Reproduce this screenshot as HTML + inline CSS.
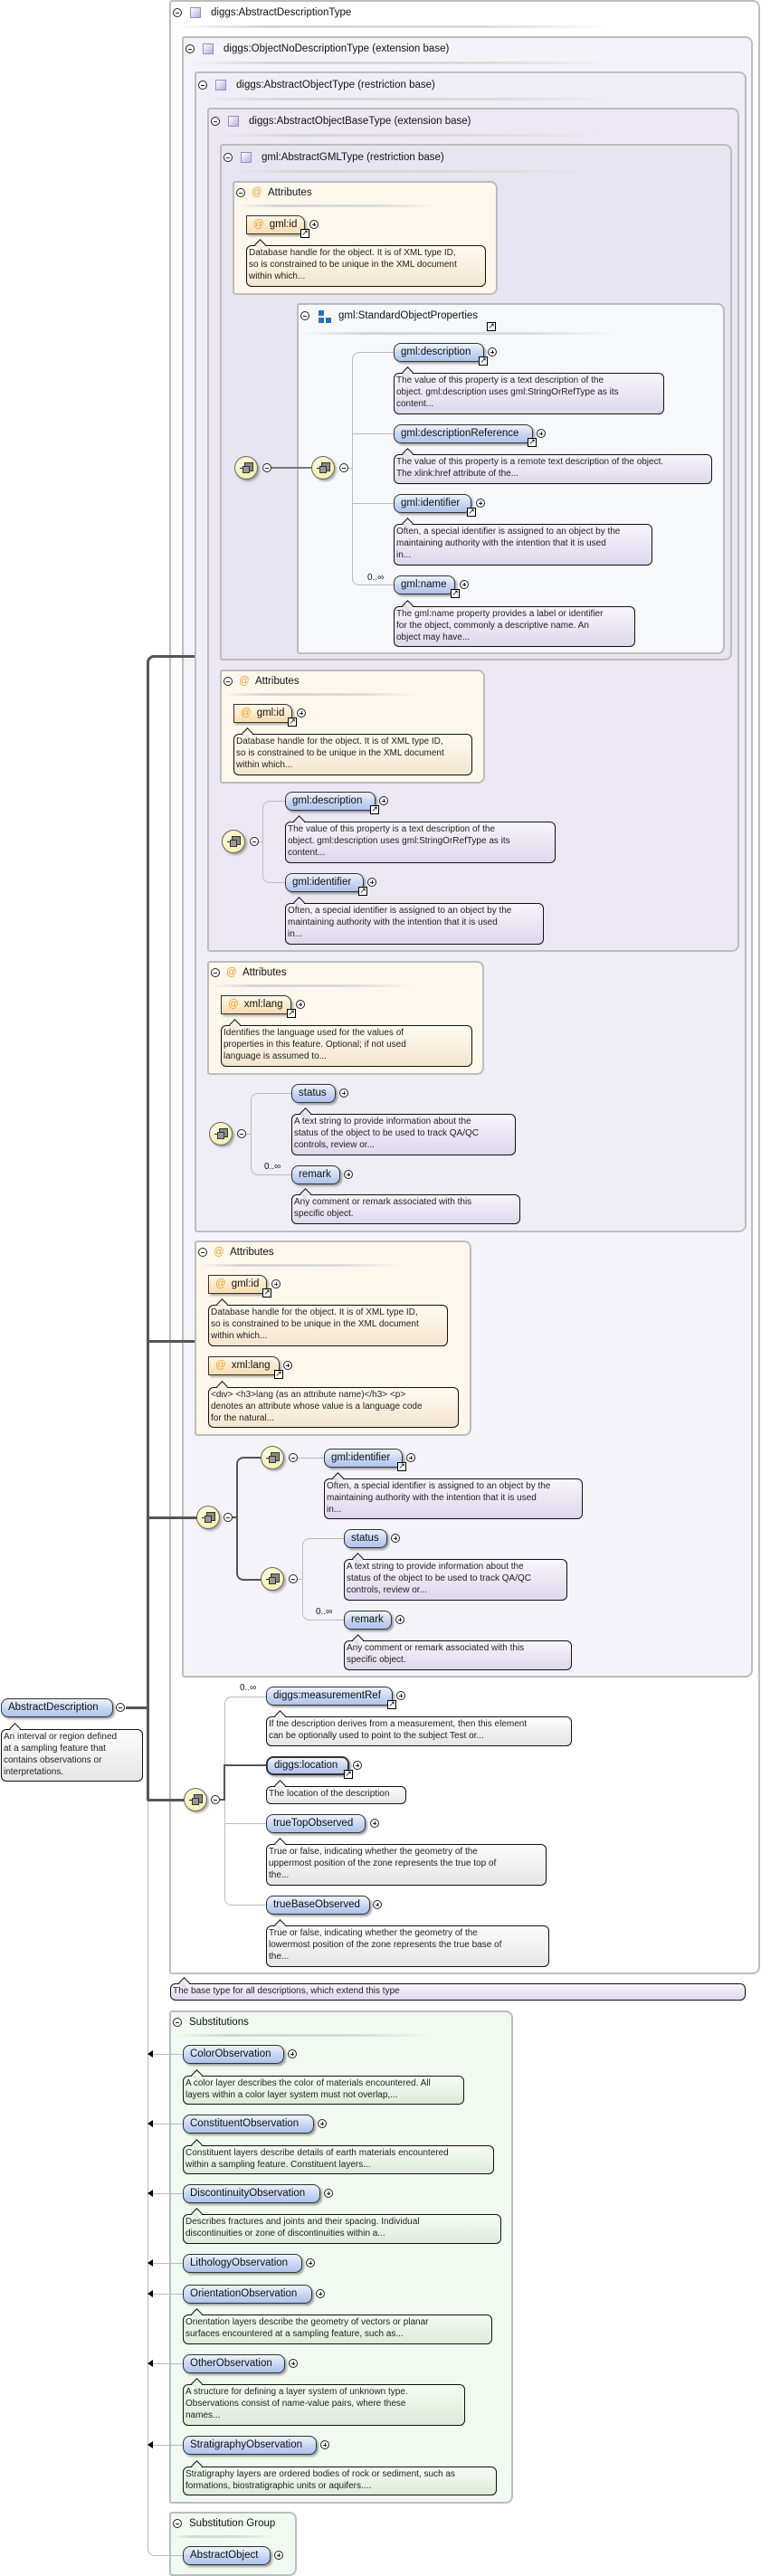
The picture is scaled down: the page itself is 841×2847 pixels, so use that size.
<!DOCTYPE html>
<html><head><meta charset="utf-8">
<style>
body{margin:0;width:841px;height:2847px;position:relative;background:#fff;font-family:"Liberation Sans",sans-serif;overflow:hidden}
div,span{box-sizing:border-box}
.box{position:absolute;border:2px solid #bdbdbd;border-radius:3px 8px 8px 3px}
.tt{position:absolute;font-size:11.5px;color:#111;white-space:nowrap;line-height:14px}
.sep{position:absolute;height:3px;background:linear-gradient(90deg,rgba(200,200,200,0),#d6d6d6 20%,#dcdcdc 70%,rgba(220,220,220,0))}
.mi,.pl{position:absolute;width:10px;height:10px;border:1px solid #222;border-radius:50%;background:#fff}
.mi::after{content:"";position:absolute;left:2px;top:3.5px;width:4px;height:1px;background:#222}
.pl::after{content:"";position:absolute;left:2px;top:3.5px;width:4px;height:1px;background:#222}
.pl::before{content:"";position:absolute;left:3.5px;top:2px;width:1px;height:4px;background:#222}
.sq{position:absolute;width:12px;height:12px;border:1px solid #9a8cc8;background:linear-gradient(135deg,#fff,#b9aee0)}
.el{position:absolute;height:21px;border:1px solid #333;border-radius:8px;background:linear-gradient(#eef3fc,#c3d3f2 60%,#aec3ec);box-shadow:2px 2px 2px rgba(0,0,0,.35);font-size:11.5px;line-height:19px;padding-left:7px;white-space:nowrap;color:#111}
.el.thick{border-width:2px;line-height:17px}
.at{position:absolute;height:21px;border:1px solid #333;border-radius:0 8px 0 0;background:linear-gradient(#fff8e8,#f6dcae);box-shadow:2px 2px 2px rgba(0,0,0,.3);font-size:11.5px;line-height:19px;padding-left:7px;white-space:nowrap;color:#111}
.at b{font-weight:normal;color:#f0a020;margin-right:6px}
.lk{position:absolute;width:10px;height:10px;border:1px solid #000;background:#fff;font-size:9px;line-height:8px;text-align:center;color:#000;font-family:"DejaVu Sans",sans-serif}
.doc{position:absolute;border:1px solid #111;border-radius:6px;font-size:10px;line-height:13px;padding:1px 2px;white-space:nowrap;color:#222;overflow:visible}
.doc::before{content:"";position:absolute;left:10px;top:-6px;width:8px;height:8px;transform:rotate(45deg);border-left:1px solid #111;border-top:1px solid #111;background:inherit}
.dl{background:linear-gradient(#f7f5fb,#ddd8ec)}
.dc{background:linear-gradient(#fffaf0,#f3e6cf)}
.dw{background:linear-gradient(#fcfcfc,#e6e6e6)}
.dg{background:linear-gradient(#f5fcf3,#dcebd9)}
.ln{position:absolute;background:#bbb}
.tk{position:absolute;background:#555}
.seq{position:absolute;width:26px;height:26px;border-radius:50%;border:1px solid #666;background:radial-gradient(circle at 40% 35%,#fffde0,#f2ea9c);box-shadow:2px 2px 2px rgba(0,0,0,.3)}
.seq::before{content:"";position:absolute;left:5px;top:12px;width:15px;height:1px;background:#222}
.seq::after{content:"";position:absolute;left:8px;top:10px;width:6px;height:6px;border:1px solid #333;background:#999;box-shadow:3px -3px 0 -0px #888,3px -3px 0 1px #333}
.oc{position:absolute;font-size:10px;white-space:nowrap;color:#111}
.arr{position:absolute;width:0;height:0;border-top:4px solid transparent;border-bottom:4px solid transparent;border-right:6px solid #000}
</style></head><body>

<div class="box" style="left:187px;top:0;width:653px;height:2182px;background:#fff"></div>
<div class="box" style="left:201px;top:40px;width:631px;height:1814px;background:#f4f3f9"></div>
<div class="box" style="left:215px;top:79px;width:610px;height:1283px;background:#efedf6"></div>
<div class="box" style="left:229px;top:119px;width:588px;height:933px;background:#ebe8f4"></div>
<div class="box" style="left:243px;top:159px;width:566px;height:571px;background:#e8e5f2"></div>
<div class="box" style="left:257px;top:200px;width:293px;height:126px;background:#fdf7ec"></div>
<div class="box" style="left:328px;top:335px;width:473px;height:388px;background:#f7f8fc"></div>
<div class="box" style="left:243px;top:740px;width:293px;height:126px;background:#fdf7ec"></div>
<div class="box" style="left:229px;top:1062px;width:306px;height:126px;background:#fdf7ec"></div>
<div class="box" style="left:215px;top:1371px;width:306px;height:216px;background:#fdf7ec"></div>
<div class="box" style="left:187px;top:2222px;width:380px;height:545px;background:#f1faf0"></div>
<div class="box" style="left:187px;top:2776px;width:141px;height:71px;background:#f1faf0"></div>

<div class="mi" style="left:191px;top:9px"></div><div class="sq" style="left:210px;top:8px"></div><div class="tt" style="left:233px;top:7px">diggs:AbstractDescriptionType</div><div class="sep" style="left:195px;top:28px;width:480px"></div>
<div class="mi" style="left:205px;top:49px"></div><div class="sq" style="left:224px;top:48px"></div><div class="tt" style="left:247px;top:47px">diggs:ObjectNoDescriptionType (extension base)</div><div class="sep" style="left:209px;top:68px;width:470px"></div>
<div class="mi" style="left:219px;top:89px"></div><div class="sq" style="left:238px;top:88px"></div><div class="tt" style="left:261px;top:87px">diggs:AbstractObjectType (restriction base)</div><div class="sep" style="left:223px;top:108px;width:455px"></div>
<div class="mi" style="left:233px;top:129px"></div><div class="sq" style="left:252px;top:128px"></div><div class="tt" style="left:275px;top:127px">diggs:AbstractObjectBaseType (extension base)</div><div class="sep" style="left:237px;top:148px;width:435px"></div>
<div class="mi" style="left:247px;top:169px"></div><div class="sq" style="left:266px;top:168px"></div><div class="tt" style="left:289px;top:167px">gml:AbstractGMLType (restriction base)</div><div class="sep" style="left:251px;top:188px;width:420px"></div>

<div class="mi" style="left:261px;top:208px"></div><div class="tt" style="left:278px;top:206px;color:#f0a020">@</div><div class="tt" style="left:296px;top:206px">Attributes</div><div class="sep" style="left:262px;top:226px;width:220px"></div>
<div class="at" style="left:272px;top:238px;width:65px"><b>@</b>gml:id</div><div class="lk" style="left:332px;top:253px">↗</div><div class="pl" style="left:342px;top:243px"></div>
<div class="doc dc" style="left:272px;top:271px;width:265px;height:46px">Database handle for the object. It is of XML type ID,<br>so is constrained to be unique in the XML document<br>within which...</div>

<div class="mi" style="left:332px;top:344px"></div>
<div style="position:absolute;left:352px;top:343px;width:6px;height:6px;background:#2a6fc0"></div><div style="position:absolute;left:352px;top:351px;width:6px;height:6px;background:#2a6fc0"></div><div style="position:absolute;left:360px;top:351px;width:6px;height:6px;background:#2a6fc0"></div>
<div class="tt" style="left:374px;top:342px">gml:StandardObjectProperties</div><div class="lk" style="left:538px;top:356px">↗</div><div class="sep" style="left:333px;top:367px;width:350px"></div>

<div class="seq" style="left:259px;top:504px"></div><div class="mi" style="left:290px;top:512px"></div>
<div class="tk" style="left:300px;top:516px;width:45px;height:2px;background:#777"></div>
<div class="seq" style="left:344px;top:504px"></div><div class="mi" style="left:375px;top:512px"></div>
<div class="ln" style="left:385px;top:517px;width:4px;height:1px"></div>
<div style="position:absolute;left:389px;top:389px;width:46px;height:258px;border-left:1px solid #bbb;border-top:1px solid #bbb;border-bottom:1px solid #bbb;border-radius:8px 0 0 8px"></div>
<div class="ln" style="left:389px;top:479px;width:46px;height:1px"></div>
<div class="ln" style="left:389px;top:556px;width:46px;height:1px"></div>

<div class="el" style="left:435px;top:379px;width:100px">gml:description</div><div class="lk" style="left:529px;top:394px">↗</div><div class="pl" style="left:539px;top:384px"></div>
<div class="doc dl" style="left:435px;top:412px;width:299px;height:46px">The value of this property is a text description of the<br>object. gml:description uses gml:StringOrRefType as its<br>content...</div>
<div class="el" style="left:435px;top:469px;width:154px">gml:descriptionReference</div><div class="lk" style="left:583px;top:484px">↗</div><div class="pl" style="left:593px;top:474px"></div>
<div class="doc dl" style="left:435px;top:502px;width:352px;height:33px">The value of this property is a remote text description of the object.<br>The xlink:href attribute of the...</div>
<div class="el" style="left:435px;top:546px;width:86px">gml:identifier</div><div class="lk" style="left:516px;top:561px">↗</div><div class="pl" style="left:526px;top:551px"></div>
<div class="doc dl" style="left:435px;top:579px;width:286px;height:46px">Often, a special identifier is assigned to an object by the<br>maintaining authority with the intention that it is used<br>in...</div>
<div class="oc" style="left:406px;top:633px">0..∞</div>
<div class="el" style="left:435px;top:636px;width:68px">gml:name</div><div class="lk" style="left:498px;top:651px">↗</div><div class="pl" style="left:508px;top:641px"></div>
<div class="doc dl" style="left:435px;top:670px;width:267px;height:45px">The gml:name property provides a label or identifier<br>for the object, commonly a descriptive name. An<br>object may have...</div>

<div class="mi" style="left:247px;top:748px"></div><div class="tt" style="left:264px;top:746px;color:#f0a020">@</div><div class="tt" style="left:282px;top:746px">Attributes</div><div class="sep" style="left:248px;top:766px;width:215px"></div>
<div class="at" style="left:258px;top:778px;width:65px"><b>@</b>gml:id</div><div class="lk" style="left:318px;top:793px">↗</div><div class="pl" style="left:328px;top:783px"></div>
<div class="doc dc" style="left:258px;top:811px;width:264px;height:46px">Database handle for the object. It is of XML type ID,<br>so is constrained to be unique in the XML document<br>within which...</div>
<div class="seq" style="left:245px;top:917px"></div><div class="mi" style="left:276px;top:925px"></div>
<div class="ln" style="left:286px;top:930px;width:4px;height:1px"></div>
<div style="position:absolute;left:290px;top:885px;width:25px;height:91px;border-left:1px solid #bbb;border-top:1px solid #bbb;border-bottom:1px solid #bbb;border-radius:8px 0 0 8px"></div>
<div class="el" style="left:315px;top:875px;width:100px">gml:description</div><div class="lk" style="left:409px;top:890px">↗</div><div class="pl" style="left:419px;top:880px"></div>
<div class="doc dl" style="left:315px;top:908px;width:299px;height:46px">The value of this property is a text description of the<br>object. gml:description uses gml:StringOrRefType as its<br>content...</div>
<div class="el" style="left:315px;top:965px;width:87px">gml:identifier</div><div class="lk" style="left:396px;top:980px">↗</div><div class="pl" style="left:406px;top:970px"></div>
<div class="doc dl" style="left:315px;top:998px;width:286px;height:46px">Often, a special identifier is assigned to an object by the<br>maintaining authority with the intention that it is used<br>in...</div>

<div class="mi" style="left:233px;top:1070px"></div><div class="tt" style="left:250px;top:1068px;color:#f0a020">@</div><div class="tt" style="left:268px;top:1068px">Attributes</div><div class="sep" style="left:234px;top:1088px;width:225px"></div>
<div class="at" style="left:244px;top:1100px;width:78px"><b>@</b>xml:lang</div><div class="lk" style="left:317px;top:1115px">↗</div><div class="pl" style="left:327px;top:1105px"></div>
<div class="doc dc" style="left:244px;top:1133px;width:278px;height:46px">Identifies the language used for the values of<br>properties in this feature. Optional; if not used<br>language is assumed to...</div>
<div class="seq" style="left:231px;top:1240px"></div><div class="mi" style="left:262px;top:1248px"></div>
<div class="ln" style="left:272px;top:1253px;width:5px;height:1px"></div>
<div style="position:absolute;left:277px;top:1208px;width:45px;height:91px;border-left:1px solid #bbb;border-top:1px solid #bbb;border-bottom:1px solid #bbb;border-radius:8px 0 0 8px"></div>
<div class="el" style="left:322px;top:1198px;width:49px">status</div><div class="pl" style="left:375px;top:1203px"></div>
<div class="doc dl" style="left:322px;top:1231px;width:248px;height:46px">A text string to provide information about the<br>status of the object to be used to track QA/QC<br>controls, review or...</div>
<div class="oc" style="left:292px;top:1284px">0..∞</div>
<div class="el" style="left:322px;top:1288px;width:54px">remark</div><div class="pl" style="left:380px;top:1293px"></div>
<div class="doc dl" style="left:322px;top:1320px;width:253px;height:33px">Any comment or remark associated with this<br>specific object.</div>

<div class="mi" style="left:219px;top:1379px"></div><div class="tt" style="left:236px;top:1377px;color:#f0a020">@</div><div class="tt" style="left:254px;top:1377px">Attributes</div><div class="sep" style="left:220px;top:1397px;width:225px"></div>
<div class="at" style="left:230px;top:1409px;width:65px"><b>@</b>gml:id</div><div class="lk" style="left:290px;top:1424px">↗</div><div class="pl" style="left:300px;top:1414px"></div>
<div class="doc dc" style="left:230px;top:1442px;width:265px;height:46px">Database handle for the object. It is of XML type ID,<br>so is constrained to be unique in the XML document<br>within which...</div>
<div class="at" style="left:230px;top:1499px;width:79px"><b>@</b>xml:lang</div><div class="lk" style="left:303px;top:1514px">↗</div><div class="pl" style="left:313px;top:1504px"></div>
<div class="doc dc" style="left:230px;top:1533px;width:277px;height:45px">&lt;div&gt; &lt;h3&gt;lang (as an attribute name)&lt;/h3&gt; &lt;p&gt;<br>denotes an attribute whose value is a language code<br>for the natural...</div>

<div class="seq" style="left:217px;top:1664px"></div><div class="mi" style="left:247px;top:1672px"></div>
<div style="position:absolute;left:257px;top:1676px;width:5px;height:2px;background:#555"></div>
<div style="position:absolute;left:261px;top:1610px;width:28px;height:137px;border-left:2px solid #555;border-top:2px solid #555;border-bottom:2px solid #555;border-radius:8px 0 0 8px"></div>
<div class="seq" style="left:288px;top:1598px"></div><div class="mi" style="left:319px;top:1606px"></div>
<div class="ln" style="left:329px;top:1611px;width:29px;height:1px"></div>
<div class="el" style="left:358px;top:1601px;width:87px">gml:identifier</div><div class="lk" style="left:439px;top:1616px">↗</div><div class="pl" style="left:449px;top:1606px"></div>
<div class="doc dl" style="left:358px;top:1634px;width:286px;height:45px">Often, a special identifier is assigned to an object by the<br>maintaining authority with the intention that it is used<br>in...</div>
<div class="seq" style="left:288px;top:1732px"></div><div class="mi" style="left:319px;top:1740px"></div>
<div class="ln" style="left:329px;top:1745px;width:5px;height:1px"></div>
<div style="position:absolute;left:334px;top:1700px;width:46px;height:91px;border-left:1px solid #bbb;border-top:1px solid #bbb;border-bottom:1px solid #bbb;border-radius:8px 0 0 8px"></div>
<div class="el" style="left:380px;top:1690px;width:48px">status</div><div class="pl" style="left:432px;top:1695px"></div>
<div class="doc dl" style="left:380px;top:1723px;width:247px;height:46px">A text string to provide information about the<br>status of the object to be used to track QA/QC<br>controls, review or...</div>
<div class="oc" style="left:349px;top:1776px">0..∞</div>
<div class="el" style="left:380px;top:1780px;width:53px">remark</div><div class="pl" style="left:437px;top:1785px"></div>
<div class="doc dl" style="left:380px;top:1813px;width:252px;height:33px">Any comment or remark associated with this<br>specific object.</div>

<div style="position:absolute;left:162px;top:724px;width:53px;height:1266px;border-left:3px solid #555;border-top:3px solid #555;border-radius:8px 0 0 0"></div>
<div class="tk" style="left:163px;top:1481px;width:52px;height:3px"></div>
<div class="tk" style="left:163px;top:1676px;width:55px;height:3px"></div>
<div class="tk" style="left:163px;top:1988px;width:41px;height:3px"></div>
<div class="tk" style="left:139px;top:1886px;width:25px;height:3px"></div>
<div style="position:absolute;left:163px;top:1991px;width:39px;height:834px;border-left:1px solid #bbb;border-bottom:1px solid #bbb;border-radius:0 0 0 8px"></div>

<div class="el" style="left:1px;top:1877px;width:124px">AbstractDescription</div><div class="mi" style="left:128px;top:1882px"></div>
<div class="doc dw" style="left:1px;top:1911px;width:157px;height:58px">An interval or region defined<br>at a sampling feature that<br>contains observations or<br>interpretations.</div>

<div class="seq" style="left:203px;top:1976px"></div><div class="mi" style="left:233px;top:1984px"></div>
<div style="position:absolute;left:248px;top:1875px;width:46px;height:231px;border-left:1px solid #bbb;border-top:1px solid #bbb;border-bottom:1px solid #bbb;border-radius:8px 0 0 8px"></div>
<div class="ln" style="left:248px;top:2015px;width:46px;height:1px"></div>
<div class="tk" style="left:243px;top:1988px;width:6px;height:2px"></div>
<div class="tk" style="left:247px;top:1950px;width:2px;height:40px"></div>
<div class="tk" style="left:247px;top:1950px;width:47px;height:2px"></div>
<div class="oc" style="left:265px;top:1860px">0..∞</div>
<div class="el" style="left:294px;top:1864px;width:140px">diggs:measurementRef</div><div class="lk" style="left:428px;top:1879px">↗</div><div class="pl" style="left:438px;top:1869px"></div>
<div class="doc dw" style="left:294px;top:1897px;width:338px;height:33px">If the description derives from a measurement, then this element<br>can be optionally used to point to the subject Test or...</div>
<div class="el thick" style="left:294px;top:1941px;width:92px">diggs:location</div><div class="lk" style="left:380px;top:1956px">↗</div><div class="pl" style="left:390px;top:1946px"></div>
<div class="doc dw" style="left:294px;top:1974px;width:155px;height:20px">The location of the description</div>
<div class="el" style="left:294px;top:2005px;width:110px">trueTopObserved</div><div class="pl" style="left:409px;top:2010px"></div>
<div class="doc dw" style="left:294px;top:2038px;width:310px;height:46px">True or false, indicating whether the geometry of the<br>uppermost position of the zone represents the true top of<br>the...</div>
<div class="el" style="left:294px;top:2095px;width:115px">trueBaseObserved</div><div class="pl" style="left:412px;top:2100px"></div>
<div class="doc dw" style="left:294px;top:2128px;width:313px;height:46px">True or false, indicating whether the geometry of the<br>lowermost position of the zone represents the true base of<br>the...</div>

<div class="doc dl" style="left:188px;top:2192px;width:636px;height:19px">The base type for all descriptions, which extend this type</div>

<div class="mi" style="left:191px;top:2230px"></div><div class="tt" style="left:209px;top:2228px">Substitutions</div><div class="sep" style="left:192px;top:2248px;width:290px"></div>

<div class="ln" style="left:163px;top:2270px;width:39px;height:1px"></div><div class="arr" style="left:163px;top:2266px"></div>
<div class="el" style="left:202px;top:2260px;width:112px">ColorObservation</div><div class="pl" style="left:318px;top:2265px"></div>
<div class="doc dg" style="left:202px;top:2294px;width:311px;height:32px">A color layer describes the color of materials encountered. All<br>layers within a color layer system must not overlap,...</div>

<div class="ln" style="left:163px;top:2347px;width:39px;height:1px"></div><div class="arr" style="left:163px;top:2343px"></div>
<div class="el" style="left:202px;top:2337px;width:145px">ConstituentObservation</div><div class="pl" style="left:351px;top:2342px"></div>
<div class="doc dg" style="left:202px;top:2371px;width:344px;height:32px">Constituent layers describe details of earth materials encountered<br>within a sampling feature. Constituent layers...</div>

<div class="ln" style="left:163px;top:2424px;width:39px;height:1px"></div><div class="arr" style="left:163px;top:2420px"></div>
<div class="el" style="left:202px;top:2414px;width:152px">DiscontinuityObservation</div><div class="pl" style="left:358px;top:2419px"></div>
<div class="doc dg" style="left:202px;top:2447px;width:352px;height:33px">Describes fractures and joints and their spacing. Individual<br>discontinuities or zone of discontinuities within a...</div>

<div class="ln" style="left:163px;top:2501px;width:39px;height:1px"></div><div class="arr" style="left:163px;top:2497px"></div>
<div class="el" style="left:202px;top:2491px;width:132px">LithologyObservation</div><div class="pl" style="left:338px;top:2496px"></div>

<div class="ln" style="left:163px;top:2535px;width:39px;height:1px"></div><div class="arr" style="left:163px;top:2531px"></div>
<div class="el" style="left:202px;top:2525px;width:143px">OrientationObservation</div><div class="pl" style="left:349px;top:2530px"></div>
<div class="doc dg" style="left:202px;top:2558px;width:342px;height:33px">Orientation layers describe the geometry of vectors or planar<br>surfaces encountered at a sampling feature, such as...</div>

<div class="ln" style="left:163px;top:2612px;width:39px;height:1px"></div><div class="arr" style="left:163px;top:2608px"></div>
<div class="el" style="left:202px;top:2602px;width:113px">OtherObservation</div><div class="pl" style="left:319px;top:2607px"></div>
<div class="doc dg" style="left:202px;top:2635px;width:312px;height:46px">A structure for defining a layer system of unknown type.<br>Observations consist of name-value pairs, where these<br>names...</div>

<div class="ln" style="left:163px;top:2702px;width:39px;height:1px"></div><div class="arr" style="left:163px;top:2698px"></div>
<div class="el" style="left:202px;top:2692px;width:148px">StratigraphyObservation</div><div class="pl" style="left:354px;top:2697px"></div>
<div class="doc dg" style="left:202px;top:2726px;width:347px;height:32px">Stratigraphy layers are ordered bodies of rock or sediment, such as<br>formations, biostratigraphic units or aquifers....</div>

<div class="mi" style="left:191px;top:2784px"></div><div class="tt" style="left:209px;top:2782px">Substitution Group</div><div class="sep" style="left:192px;top:2802px;width:110px"></div>
<div class="el" style="left:202px;top:2814px;width:97px">AbstractObject</div><div class="pl" style="left:303px;top:2819px"></div>

</body></html>
